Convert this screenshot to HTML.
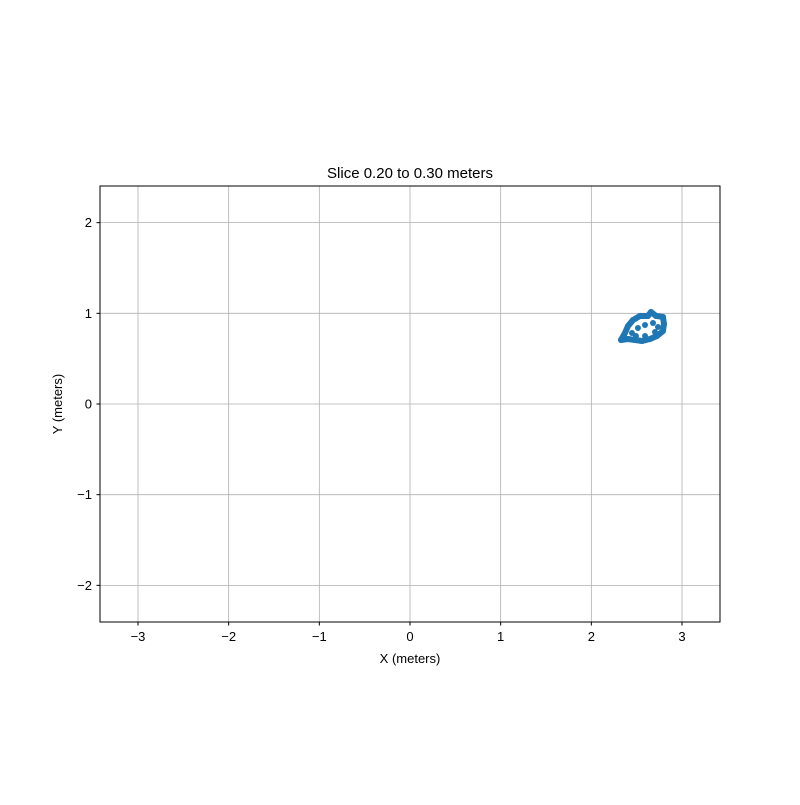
<!DOCTYPE html>
<html><head><meta charset="utf-8"><style>
body{margin:0;background:#fff}
text{font-family:"Liberation Sans","DejaVu Sans",sans-serif;font-size:13px;fill:#000}
</style></head><body>
<svg id="chart" width="800" height="800" xmlns="http://www.w3.org/2000/svg">
<rect width="800" height="800" fill="#fff"/>
<g id="grid"></g>
<g id="data"></g>
<rect x="100" y="186" width="620" height="436" fill="none" stroke="#000" stroke-width="1"/>
<g id="ticks"></g>
<text x="410" y="178" text-anchor="middle" style="font-size:15px">Slice 0.20 to 0.30 meters</text>
<text x="410" y="663" text-anchor="middle">X (meters)</text>
<text x="62" y="404" text-anchor="middle" transform="rotate(-90 62 404)">Y (meters)</text>
</svg>
<script>
const xTicks=[-3,-2,-1,0,1,2,3];
const yTicks=[-2,-1,0,1,2];
const outerX=[2.327,2.371,2.404,2.459,2.537,2.625,2.658,2.713,2.790,2.801,2.790,2.724,2.647,2.559,2.482,2.404,2.327];
const outerY=[0.706,0.783,0.860,0.926,0.971,0.971,1.015,0.971,0.960,0.882,0.805,0.750,0.717,0.695,0.706,0.717,0.706];
const innerX=[2.448,2.514,2.592,2.680,2.735,2.702,2.592,2.492];
const innerY=[0.783,0.838,0.871,0.893,0.849,0.794,0.750,0.750];
const NS="http://www.w3.org/2000/svg";
const sx=v=>410+v*90.67, sy=v=>404-v*90.67;
const grid=document.getElementById('grid'),ticks=document.getElementById('ticks'),data=document.getElementById('data');
function mk(tag,a,p){const e=document.createElementNS(NS,tag);for(const k in a)e.setAttribute(k,a[k]);p.appendChild(e);return e;}
xTicks.forEach(t=>{const x=sx(t);
 const g=mk('line',{x1:x,x2:x,y1:186,y2:622,stroke:'#b0b0b0','stroke-width':0.8},grid);
 
 
 mk('line',{x1:x,x2:x,y1:622,y2:625.5,stroke:'#000'},ticks);
 const l=mk('text',{x:x,y:641,'text-anchor':'middle'},ticks);l.textContent=(t<0?'\u2212'+(-t):t);
 
 });
yTicks.forEach(t=>{const y=sy(t);
 const g=mk('line',{x1:100,x2:720,y1:y,y2:y,stroke:'#b0b0b0','stroke-width':0.8},grid);
 
 
 mk('line',{x1:96.5,x2:100,y1:y,y2:y,stroke:'#000'},ticks);
 const l=mk('text',{x:92,y:y+4.5,'text-anchor':'end'},ticks);l.textContent=(t<0?'\u2212'+(-t):t);
 
 });
const pl=mk('polyline',{points:outerX.map((x,i)=>sx(x)+','+sy(outerY[i])).join(' '),fill:'none',stroke:'#1f77b4','stroke-width':6,'stroke-linejoin':'round'},data);


outerX.concat(innerX).forEach((x,i)=>{const y=i<outerX.length?outerY[i]:innerY[i-outerX.length];
 const c=mk('circle',{cx:sx(x),cy:sy(y),r:3,fill:'#1f77b4'},data);
 
 });
</script>
</body></html>
